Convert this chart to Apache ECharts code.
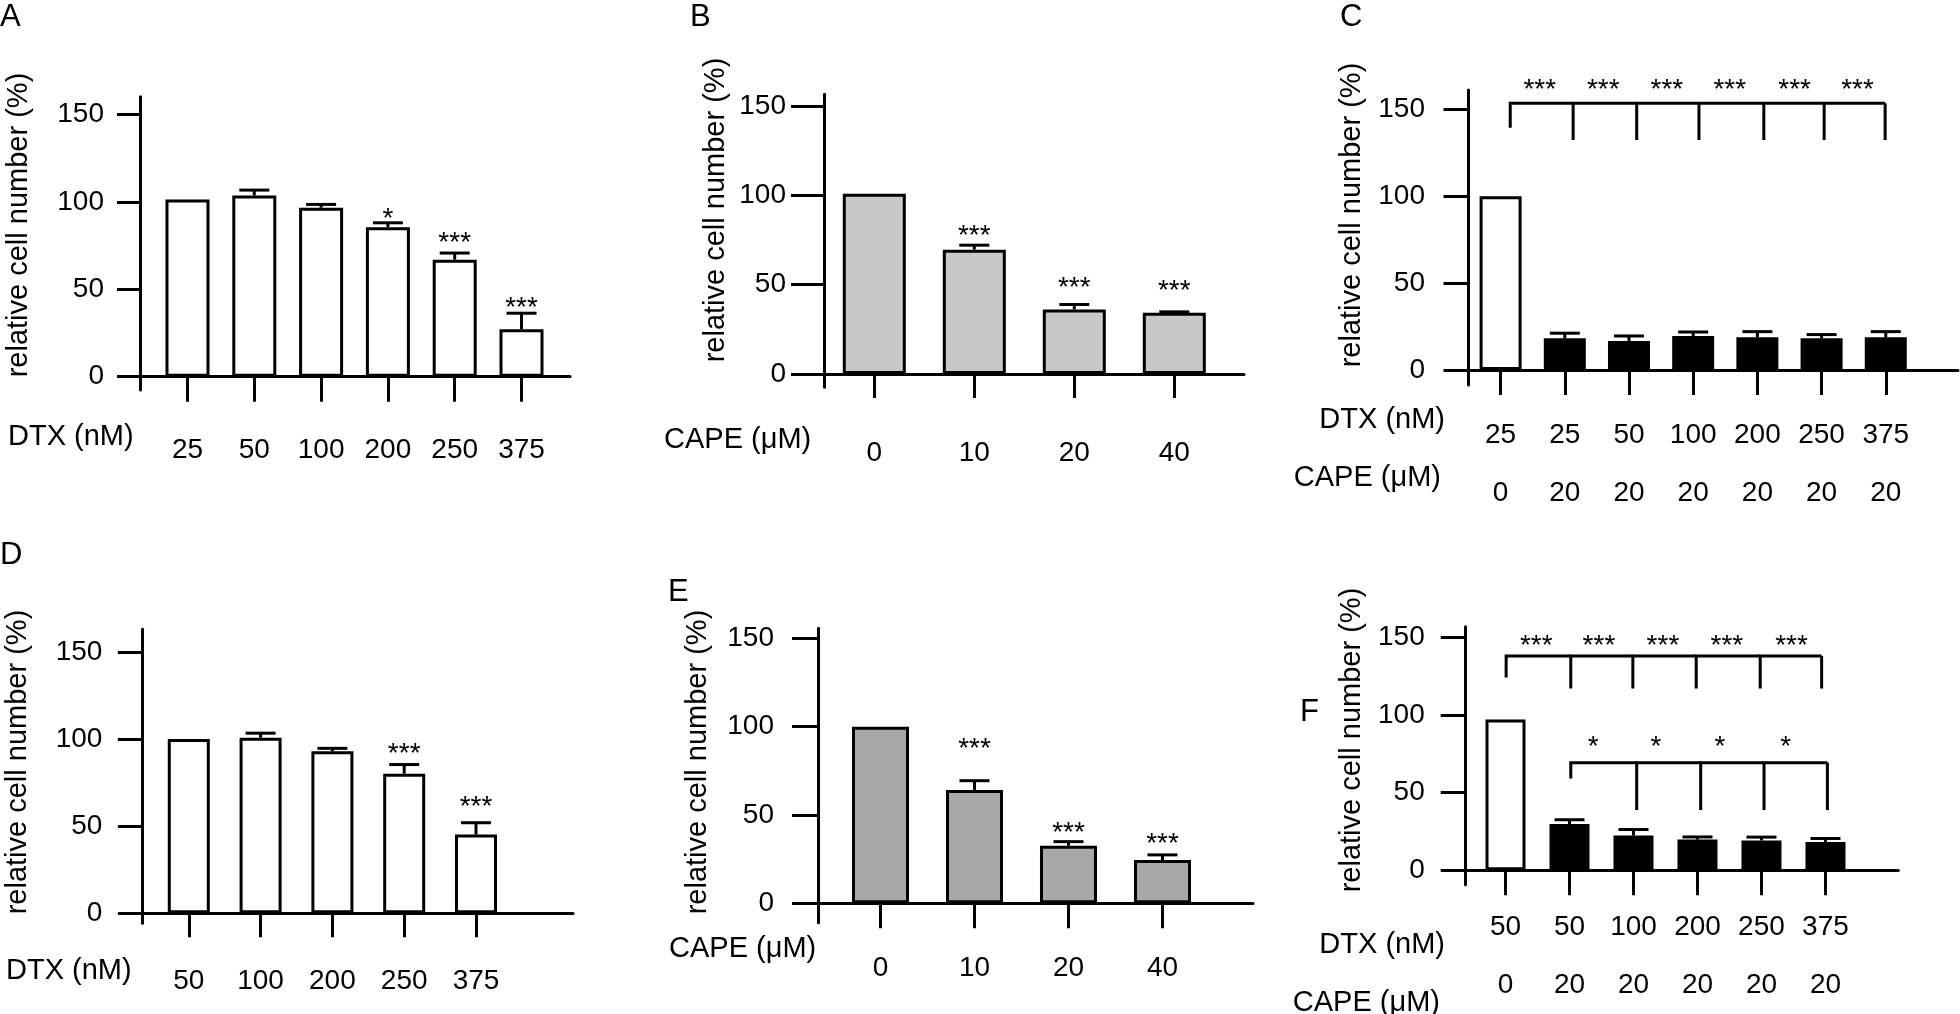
<!DOCTYPE html>
<html>
<head>
<meta charset="utf-8">
<script src="https://cdn.jsdelivr.net/npm/echarts@6/dist/echarts.min.js"></script>
<style>
  html, body { margin: 0; padding: 0; background: #fff; }
  #main { width: 1960px; height: 1014px; }
</style>
</head>
<body>
<div id="main"></div>
<script>
var FONT = '"Liberation Sans", Arial, Helvetica, sans-serif';

// ---- data ----
// A: DTX alone
var aLabels = ['25', '50', '100', '200', '250', '375'];
var aMean = [101.3, 103.6, 96.6, 85.5, 66.9, 27.2];
var aErr = [0, 3.1, 1.9, 2.5, 3.8, 9.1];
var aStars = ['', '', '', '*', '***', '***'];
var aStarY = [null, null, null, 93.7, 79.9, 42.4];

// B: CAPE alone
var bLabels = ['0', '10', '20', '40'];
var bMean = [100.9, 69.6, 36.1, 34.3];
var bErr = [0, 2.5, 2.8, 0.5];
var bStars = ['', '***', '***', '***'];
var bStarY = [null, 80.4, 51.6, 49.7];

// C: DTX + CAPE
var cDtx = ['25', '25', '50', '100', '200', '250', '375'];
var cCape = ['0', '20', '20', '20', '20', '20', '20'];
var cMean = [100, 18.3, 16.7, 19.6, 18.8, 18.3, 18.8];
var cErr = [0, 2.9, 2.9, 2.3, 3.3, 2.1, 3.3];
var cLegs = [1.15, 2.13, 3.12, 4.09, 5.1, 6.04, 6.99];
var cLegTop = 153.5, cLegFirst = 139.4, cLegOther = 132.3;
var cStarX = [1.61, 2.6, 3.59, 4.57, 5.58, 6.56];
var cStarLevel = 164.4;

// D: DTX alone
var dLabels = ['50', '100', '200', '250', '375'];
var dMean = [100, 100.8, 93, 80.1, 45.2];
var dErr = [0, 2.6, 1.7, 5.3, 6.8];
var dStars = ['', '', '', '***', '***'];
var dStarY = [null, null, null, 94.9, 64.5];

// E: CAPE alone
var eLabels = ['0', '10', '20', '40'];
var eMean = [100, 64.2, 32.6, 24.5];
var eErr = [0, 5.2, 2.3, 2.9];
var eStars = ['', '***', '***', '***'];
var eStarY = [null, 90.6, 43, 36.8];

// F: DTX + CAPE
var fDtx = ['50', '50', '100', '200', '250', '375'];
var fCape = ['0', '20', '20', '20', '20', '20'];
var fMean = [97.2, 29.7, 22.3, 19.7, 19.1, 18.2];
var fErr = [0, 2.8, 3.9, 1.7, 2.2, 2.2];
var fTopLegs = [1.01, 2.02, 2.99, 3.98, 4.98, 5.94];
var fTopLevel = 138.1, fTopFirst = 124.2, fTopOther = 117.1;
var fTopStarX = [1.48, 2.46, 3.46, 4.46, 5.47];
var fTopStarLevel = 148.3;
var fLowLegs = [2.02, 3.05, 4.05, 5.04, 6.03];
var fLowLevel = 69.3, fLowFirst = 59.1, fLowOther = 38.7;
var fLowStarX = [2.37, 3.35, 4.35, 5.38];
var fLowStarLevel = 83.3;

var yTicks = [0, 50, 100, 150];

// ---- layout (pixels) ----
var lay = {
  A: { L: 140, R: 570, T: 96.7, B: 390, xmin: 0.289, xmax: 6.726, ymin: -7.6, ymax: 160.1, barW: 44, tickY: 23, tickX: 25, labY: 36, labX: 46, lh: 28 },
  B: { L: 824, R: 1244, T: 94.3, B: 387.3, xmin: 0.497, xmax: 4.697, ymin: -7.4, ymax: 156.5, barW: 63, tickY: 33, tickX: 24, labY: 38, labX: 52, lh: 28 },
  C: { L: 1468.5, R: 1958, T: 90, B: 385, xmin: 0.5, xmax: 8.125, ymin: -8.6, ymax: 161.1, barW: 42, tickY: 25, tickX: 25, labY: 43.5, labX: 21, lh: 58 },
  D: { L: 142.4, R: 573, T: 629.3, B: 923.3, xmin: 0.354, xmax: 6.351, ymin: -5.7, ymax: 163, barW: 42, tickY: 24.5, tickX: 24, labY: 40, labX: 43.7, lh: 28 },
  E: { L: 818, R: 1253, T: 628.3, B: 922.7, xmin: 0.335, xmax: 4.963, ymin: -11, ymax: 155.7, barW: 57, tickY: 26, tickX: 25, labY: 44, labX: 31.7, lh: 28 },
  F: { L: 1465.7, R: 1898.3, T: 626.7, B: 919.3, xmin: 0.378, xmax: 7.138, ymin: -9.4, ymax: 157, barW: 40, tickY: 25, tickX: 25, labY: 41, labX: 13.3, lh: 58 }
};

var grids = [], xAxes = [], yAxes = [], series = [];
var lineStyle = { color: '#000', width: 3 };

function errItem(params, api) {
  var e = api.value(2);
  if (!e) return null;
  var x = api.value(0), y = api.value(1);
  var a = api.coord([x, y]), b = api.coord([x, y + e]);
  var half = 15;
  var st = { stroke: '#000', lineWidth: 3 };
  return {
    type: 'group',
    children: [
      { type: 'line', shape: { x1: a[0], y1: a[1], x2: b[0], y2: b[1] }, style: st },
      { type: 'line', shape: { x1: b[0] - half, y1: b[1], x2: b[0] + half, y2: b[1] }, style: st }
    ]
  };
}

function starSeries(gi, pts, texts) {
  return {
    type: 'custom', xAxisIndex: gi, yAxisIndex: gi, z: 4, silent: true,
    data: pts,
    renderItem: function (params, api) {
      var p = api.coord([api.value(0), api.value(1)]);
      return {
        type: 'text', x: p[0], y: p[1] + 6,
        style: { text: texts[params.dataIndex], font: '28px ' + FONT, fill: '#000', align: 'center', verticalAlign: 'middle' }
      };
    }
  };
}

function bracketSeries(gi, legs, level, firstEnd, otherEnd) {
  return {
    type: 'custom', xAxisIndex: gi, yAxisIndex: gi, z: 4, silent: true,
    data: legs.map(function (x, i) { return [x, level, i === 0 ? firstEnd : otherEnd]; }),
    renderItem: function (params, api) {
      var i = params.dataIndex;
      var top = api.coord([api.value(0), api.value(1)]);
      var bot = api.coord([api.value(0), api.value(2)]);
      var pts = [[bot[0], bot[1]], [top[0], top[1]]];
      if (i < legs.length - 1) {
        var nxt = api.coord([legs[i + 1], level]);
        pts.push([nxt[0], nxt[1]]);
      }
      return { type: 'polyline', shape: { points: pts }, style: { stroke: '#000', lineWidth: 3, fill: null, lineJoin: 'miter' } };
    }
  };
}

function panel(key, labels, mean, err, fills, starPts, starTexts) {
  var L = lay[key];
  var gi = grids.length;
  var ticks = mean.map(function (v, i) { return i + 1; });
  grids.push({ left: L.L, top: L.T, width: L.R - L.L, height: L.B - L.T });
  xAxes.push({
    gridIndex: gi, type: 'value', min: L.xmin, max: L.xmax,
    axisLine: { onZero: true, lineStyle: lineStyle },
    axisTick: { length: L.tickX, customValues: ticks, lineStyle: lineStyle },
    axisLabel: {
      customValues: ticks, margin: L.labX, color: '#000', fontSize: 28, fontFamily: FONT, lineHeight: L.lh,
      formatter: function (v) { return labels(Math.round(v) - 1); }
    },
    splitLine: { show: false }
  });
  yAxes.push({
    gridIndex: gi, type: 'value', min: L.ymin, max: L.ymax,
    axisLine: { show: true, onZero: false, lineStyle: lineStyle },
    axisTick: { show: true, length: L.tickY, customValues: yTicks, lineStyle: lineStyle },
    axisLabel: { customValues: yTicks, margin: L.labY, color: '#000', fontSize: 28, fontFamily: FONT },
    splitLine: { show: false }
  });
  series.push({
    type: 'bar', xAxisIndex: gi, yAxisIndex: gi, barWidth: L.barW, silent: true,
    data: mean.map(function (v, i) { return [i + 1, v]; }),
    itemStyle: {
      color: function (d) { return fills[d.dataIndex]; },
      borderColor: '#000', borderWidth: 3
    }
  });
  series.push({
    type: 'custom', xAxisIndex: gi, yAxisIndex: gi, z: 3, silent: true,
    data: mean.map(function (v, i) { return [i + 1, v, err[i]]; }),
    renderItem: errItem
  });
  if (starPts && starPts.length) series.push(starSeries(gi, starPts, starTexts));
  return gi;
}

function barStars(ys, texts) {
  var pts = [], tx = [];
  ys.forEach(function (y, i) {
    if (y != null) { pts.push([i + 1, y]); tx.push(texts[i]); }
  });
  return { pts: pts, tx: tx };
}

function fillList(n, first, rest) {
  var out = [];
  for (var i = 0; i < n; i++) out.push(i === 0 ? first : rest);
  return out;
}

var sA = barStars(aStarY, aStars);
panel('A', function (i) { return aLabels[i]; }, aMean, aErr, fillList(aMean.length, '#fff', '#fff'), sA.pts, sA.tx);

var sB = barStars(bStarY, bStars);
panel('B', function (i) { return bLabels[i]; }, bMean, bErr, fillList(bMean.length, '#c8c8c8', '#c8c8c8'), sB.pts, sB.tx);

var gC = panel('C', function (i) { return cDtx[i] + '\n' + cCape[i]; }, cMean, cErr, fillList(cMean.length, '#fff', '#000'));
series.push(bracketSeries(gC, cLegs, cLegTop, cLegFirst, cLegOther));
series.push(starSeries(gC, cStarX.map(function (x) { return [x, cStarLevel]; }), cStarX.map(function () { return '***'; })));

var sD = barStars(dStarY, dStars);
panel('D', function (i) { return dLabels[i]; }, dMean, dErr, fillList(dMean.length, '#fff', '#fff'), sD.pts, sD.tx);

var sE = barStars(eStarY, eStars);
panel('E', function (i) { return eLabels[i]; }, eMean, eErr, fillList(eMean.length, '#a8a8a8', '#a8a8a8'), sE.pts, sE.tx);

var gF = panel('F', function (i) { return fDtx[i] + '\n' + fCape[i]; }, fMean, fErr, fillList(fMean.length, '#fff', '#000'));
series.push(bracketSeries(gF, fTopLegs, fTopLevel, fTopFirst, fTopOther));
series.push(starSeries(gF, fTopStarX.map(function (x) { return [x, fTopStarLevel]; }), fTopStarX.map(function () { return '***'; })));
series.push(bracketSeries(gF, fLowLegs, fLowLevel, fLowFirst, fLowOther));
series.push(starSeries(gF, fLowStarX.map(function (x) { return [x, fLowStarLevel]; }), fLowStarX.map(function () { return '*'; })));

// ---- texts: panel letters, axis titles, row titles ----
function txt(s, x, y, align, size, rot) {
  return {
    type: 'text', x: x, y: y, rotation: rot || 0, silent: true,
    style: { text: s, font: (size || 29) + 'px ' + FONT, fill: '#000', align: align || 'left', verticalAlign: 'middle' }
  };
}
var yTitle = 'relative cell number (%)';
var graphics = [
  txt('A', 0, 17, 'left', 31), txt('B', 690, 17, 'left', 31), txt('C', 1340, 17, 'left', 31),
  txt('D', 0, 555, 'left', 31), txt('E', 668, 592, 'left', 31), txt('F', 1300, 712, 'left', 31),
  txt(yTitle, 19, 225, 'center', 29, Math.PI / 2),
  txt(yTitle, 716, 210, 'center', 29, Math.PI / 2),
  txt(yTitle, 1352, 215, 'center', 29, Math.PI / 2),
  txt(yTitle, 17.5, 762, 'center', 29, Math.PI / 2),
  txt(yTitle, 698, 762, 'center', 29, Math.PI / 2),
  txt(yTitle, 1352, 740, 'center', 29, Math.PI / 2),
  txt('DTX (nM)', 8, 437), txt('CAPE (\u03bcM)', 664, 440),
  txt('DTX (nM)', 1445, 420, 'right'), txt('CAPE (\u03bcM)', 1441, 478, 'right'),
  txt('DTX (nM)', 6, 971), txt('CAPE (\u03bcM)', 669, 949),
  txt('DTX (nM)', 1445, 945, 'right'), txt('CAPE (\u03bcM)', 1440, 1003, 'right')
];

var chart = echarts.init(document.getElementById('main'), null, { renderer: 'canvas' });
chart.setOption({
  animation: false,
  backgroundColor: '#fff',
  textStyle: { fontFamily: FONT },
  grid: grids,
  xAxis: xAxes,
  yAxis: yAxes,
  series: series,
  graphic: graphics
});
</script>
</body>
</html>
